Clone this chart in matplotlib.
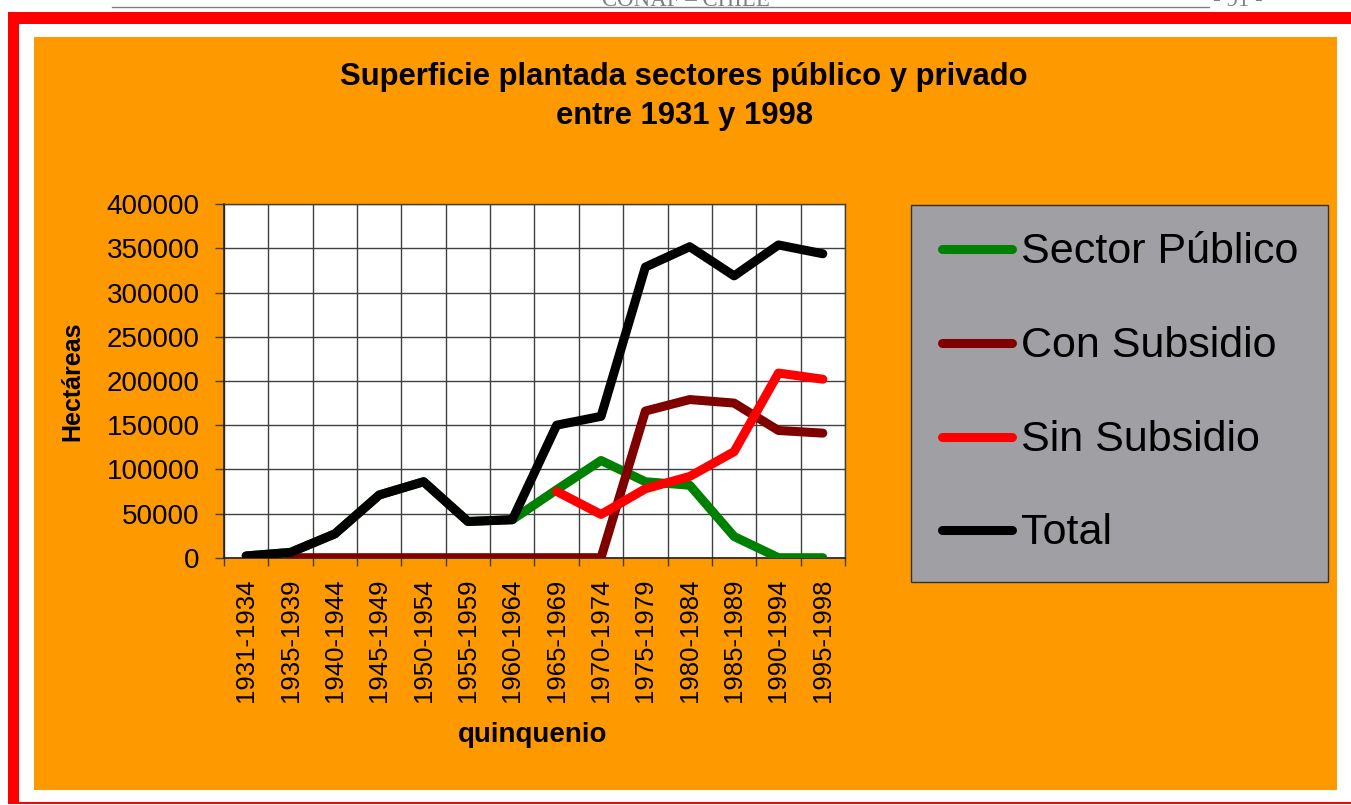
import numpy as np
import matplotlib
matplotlib.use('Agg')
import matplotlib.pyplot as plt
from matplotlib.patches import Rectangle
from matplotlib.lines import Line2D

plt.rcParams['font.family'] = ['Liberation Sans', 'DejaVu Sans']

# data (hectareas per quinquenio)
quinquenios = ['1931-1934', '1935-1939', '1940-1944', '1945-1949', '1950-1954',
               '1955-1959', '1960-1964', '1965-1969', '1970-1974', '1975-1979',
               '1980-1984', '1985-1989', '1990-1994', '1995-1998']
sector_publico = [2000, 6000, 27000, 71000, 86000, 41000, 43000,
                  77000, 110000, 86000, 82000, 24000, 0, 0]
con_subsidio = [np.nan, 0, 0, 0, 0, 0, 0, 0, 0,
                166000, 179000, 175000, 144000, 141000]
sin_subsidio = [np.nan, np.nan, np.nan, np.nan, np.nan, np.nan, np.nan,
                75000, 49000, 78000, 92000, 120000, 209000, 202000]
total = [2000, 6000, 27000, 71000, 86000, 41000, 43000,
         150000, 160000, 329000, 352000, 319000, 354000, 344000]

series = [('Sector Público', sector_publico, '#008000'),
          ('Con Subsidio', con_subsidio, '#800000'),
          ('Sin Subsidio', sin_subsidio, '#FF0000'),
          ('Total', total, '#000000')]

W, H = 1351, 805
fig = plt.figure(figsize=(W/100, H/100), dpi=100)
fig.patch.set_facecolor('white')

def fx(px):
    return px / W

def fy(py):
    return 1 - py / H

# page decoration: header, red frame, orange panel (behind the axes)
fig.add_artist(Line2D([fx(112), fx(1209)], [fy(7), fy(7)], color='#808080', lw=1, zorder=-5))
fig.text(fx(686), fy(6), 'CONAF – CHILE', ha='center', va='baseline', color='#808080',
         fontsize=16.5, family=['Liberation Serif', 'DejaVu Serif'])
fig.text(fx(1238), fy(6), '- 91 -', ha='center', va='baseline', color='#808080',
         fontsize=16.5, family=['Liberation Serif', 'DejaVu Serif'])
fig.add_artist(Rectangle((fx(8), fy(24)), fx(1351-8), 12/H, color='#FF0000', lw=0, zorder=-5))
fig.add_artist(Rectangle((fx(8), fy(804)), fx(11), (804-12)/H, color='#FF0000', lw=0, zorder=-5))
fig.add_artist(Rectangle((fx(8), fy(803.5)), fx(1351-8), 2/H, color='#FF0000', lw=0, zorder=-5))
fig.add_artist(Rectangle((fx(34), fy(790)), fx(1337-34), (790-37)/H, color='#FF9900', lw=0,
                         zorder=-5))

# title
fig.text(fx(684), fy(77), 'Superficie plantada sectores público y privado', ha='center', va='center',
         fontsize=22.3, fontweight='bold')
fig.text(fx(684), fy(116), 'entre 1931 y 1998', ha='center', va='center',
         fontsize=22.3, fontweight='bold')

# plot area
ax = fig.add_axes([fx(224), fy(557.7), fx(845-224), (557.7-204.3)/H])
ax.set_facecolor('white')
x = np.arange(len(quinquenios))
for name, vals, col in series:
    ax.plot(x, vals, color=col, lw=6.5, solid_capstyle='round', solid_joinstyle='round',
            label=name, zorder=3)

ax.set_xlim(-0.5, len(quinquenios) - 0.5)
ax.set_ylim(0, 400000)
ax.set_yticks(np.arange(0, 400001, 50000))
ax.set_xticks(x)
ax.set_xticklabels(quinquenios, rotation=90, fontsize=18.5)
ax.set_xticks(np.arange(-0.5, len(quinquenios), 1), minor=True)
ax.tick_params(axis='x', which='major', length=0, pad=15)
ax.tick_params(axis='x', which='minor', length=6, width=1, color='#404040', direction='out')
ax.tick_params(axis='y', which='major', length=6.5, width=1, color='#404040', labelsize=20, pad=11)
ax.grid(True, axis='x', which='minor', color='#404040', lw=1, zorder=1)
ax.grid(True, axis='y', which='major', color='#404040', lw=1, zorder=1)
for s in ['top', 'right']:
    ax.spines[s].set_color('#404040')
    ax.spines[s].set_linewidth(1)
for s in ['left', 'bottom']:
    ax.spines[s].set_color('#202020')
    ax.spines[s].set_linewidth(1.2)

fig.text(fx(72), fy(381), 'Hectáreas', rotation=90, ha='center', va='center',
         fontsize=18, fontweight='bold')
fig.text(fx(533), fy(735), 'quinquenio', ha='center', va='center',
         fontsize=20, fontweight='bold')

# legend box drawn by hand to match the original layout
fig.add_artist(Rectangle((fx(911), fy(581.5)), fx(1327.5-911), (581.5-205)/H,
                         facecolor='#A0A0A4', edgecolor='#303030', lw=1))
leg_y = [249, 343, 437, 530]
for (name, vals, col), yy in zip(series, leg_y):
    fig.add_artist(Line2D([fx(942), fx(1012)], [fy(yy), fy(yy)], color=col, lw=6.5,
                          solid_capstyle='round'))
    fig.text(fx(1021), fy(yy + 3), name, ha='left', va='center', fontsize=31)

fig.savefig('out.png', dpi=100, facecolor='white')
